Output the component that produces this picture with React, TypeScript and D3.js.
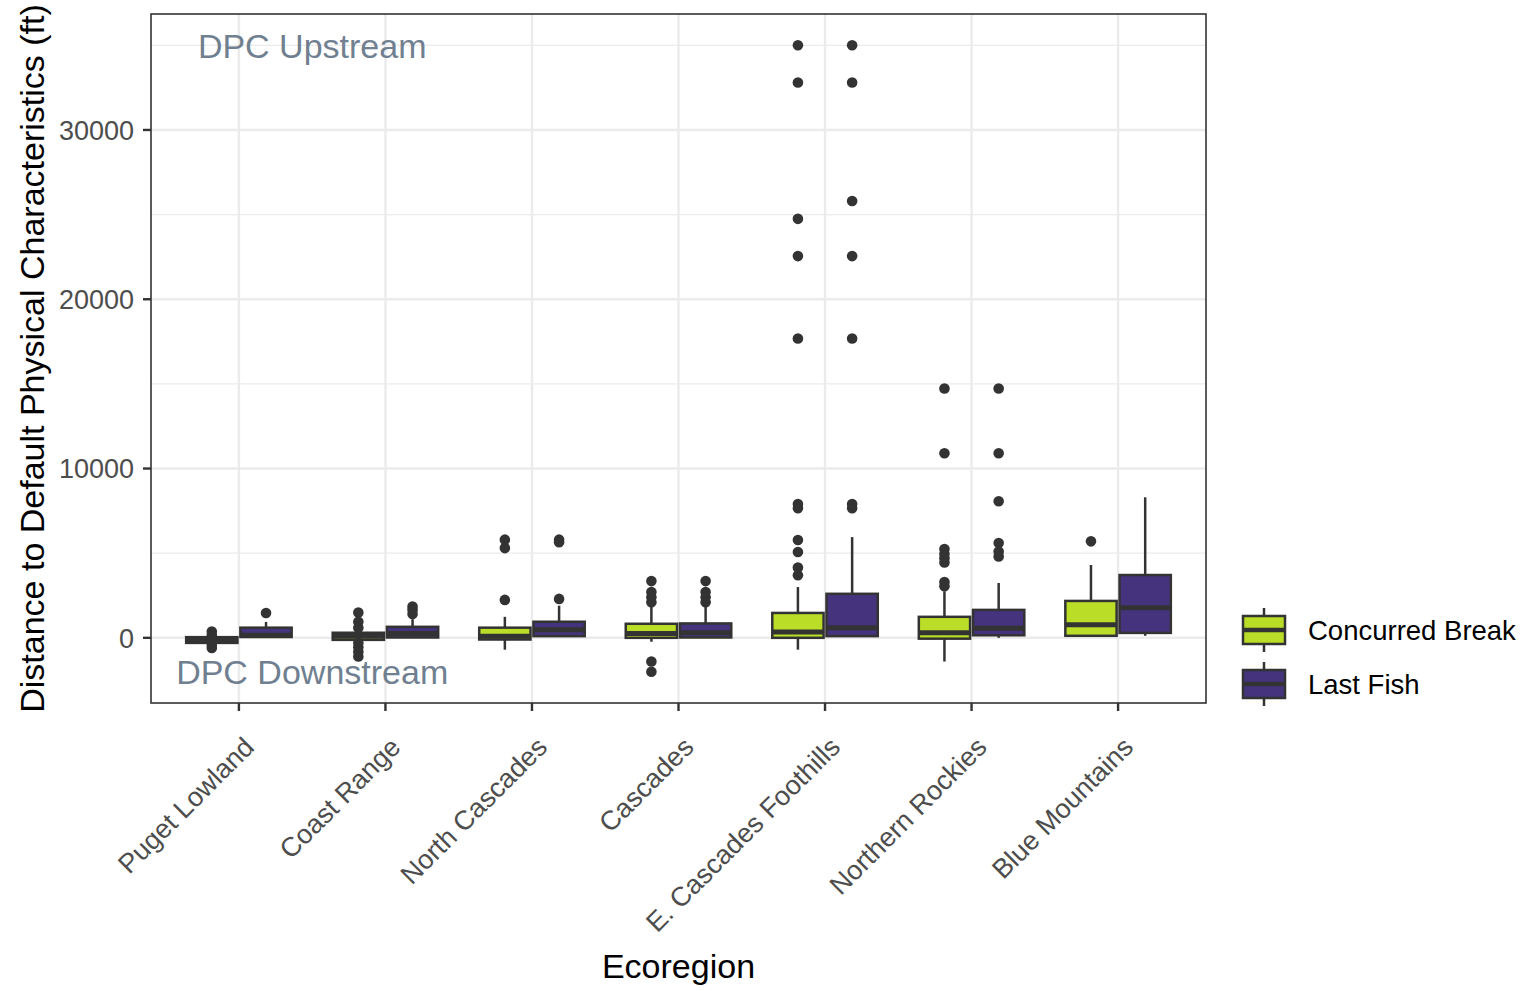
import React from "react";
import * as d3 from "d3";

// Ecoregions along the x axis
const ecoregions = [
  "Puget Lowland",
  "Coast Range",
  "North Cascades",
  "Cascades",
  "E. Cascades Foothills",
  "Northern Rockies",
  "Blue Mountains",
];

const groups = ["Concurred Break", "Last Fish"];
const groupColors = ["#BADE28", "#46337E"];

// Box statistics per ecoregion (ft): lower whisker, Q1, median, Q3, upper whisker
const concurredLower = [-320, -200, -700, -230, -700, -1400, 50];
const concurredQ1 = [-300, -120, -100, 0, 0, -50, 120];
const concurredMedian = [-130, 100, 100, 250, 350, 300, 770];
const concurredQ3 = [40, 300, 600, 830, 1470, 1240, 2180];
const concurredUpper = [80, 500, 1240, 1830, 3000, 2750, 4300];
const concurredOutliers = [
  [370, 170, -420, -600],
  [1500, 950, 600, -300, -550, -820, -1100],
  [5800, 5300, 2240],
  [3350, 2700, 2400, 2100, -1400, -2000],
  [35000, 32800, 24750, 22550, 17680, 7900, 7650, 5780, 5070, 4150, 3700],
  [14730, 10900, 5250, 4950, 4700, 4450, 3300, 3050],
  [5700],
];

const lastFishLower = [0, 0, 50, 0, 50, 0, 120];
const lastFishQ1 = [50, 20, 100, 20, 100, 150, 290];
const lastFishMedian = [150, 250, 470, 300, 600, 560, 1770];
const lastFishQ3 = [600, 650, 950, 850, 2600, 1650, 3710];
const lastFishUpper = [940, 1100, 1900, 1830, 5950, 3240, 8300];
const lastFishOutliers = [
  [1470],
  [1850, 1650, 1400],
  [5800, 5650, 2300],
  [3350, 2700, 2400, 2100],
  [35000, 32800, 25800, 22550, 17680, 7900, 7650],
  [14730, 10900, 8070, 5600, 5100, 4800],
  [],
];

const yTicks = [0, 10000, 20000, 30000];
const yMinorTicks = [5000, 15000, 25000, 35000];

const annotations = [
  { label: "DPC Upstream", x: 1.5, y: 35000 },
  { label: "DPC Downstream", x: 1.5, y: -2000 },
];

const FONT = "'Liberation Sans', Arial, Helvetica, sans-serif";
const W = 1532;
const H = 991;
const panel = { left: 151, top: 14, right: 1206, bottom: 703 };

type Box = {
  region: number;
  group: number;
  lower: number;
  q1: number;
  median: number;
  q3: number;
  upper: number;
  outliers: number[];
};

const boxes: Box[] = [];
ecoregions.forEach((_, i) => {
  boxes.push({
    region: i,
    group: 0,
    lower: concurredLower[i],
    q1: concurredQ1[i],
    median: concurredMedian[i],
    q3: concurredQ3[i],
    upper: concurredUpper[i],
    outliers: concurredOutliers[i],
  });
  boxes.push({
    region: i,
    group: 1,
    lower: lastFishLower[i],
    q1: lastFishQ1[i],
    median: lastFishMedian[i],
    q3: lastFishQ3[i],
    upper: lastFishUpper[i],
    outliers: lastFishOutliers[i],
  });
});

export default function App() {
  // Discrete x scale with 0.6 unit padding at each end
  const x = d3
    .scaleLinear()
    .domain([1 - 0.6, ecoregions.length + 0.6])
    .range([panel.left, panel.right]);

  const allValues = boxes.flatMap((b) => [b.lower, b.upper, ...b.outliers]);
  const yMin = d3.min(allValues) as number;
  const yMax = d3.max(allValues) as number;
  const pad = (yMax - yMin) * 0.05;
  const y = d3
    .scaleLinear()
    .domain([yMin - pad, yMax + pad])
    .range([panel.bottom, panel.top]);

  const unit = x(2) - x(1);
  const boxW = unit * 0.35;
  const offset = unit * 0.185;

  const stroke = "#333333";

  return (
    <svg
      width={W}
      height={H}
      style={{ position: "fixed", left: 0, top: 0, background: "#fff" }}
      fontFamily={FONT}
    >
      <rect x={0} y={0} width={W} height={H} fill="#fff" />
      <defs>
        <clipPath id="panelClip">
          <rect
            x={panel.left}
            y={panel.top}
            width={panel.right - panel.left}
            height={panel.bottom - panel.top}
          />
        </clipPath>
      </defs>

      {/* grid */}
      <g clipPath="url(#panelClip)">
        {yMinorTicks.map((t) => (
          <line
            key={"ym" + t}
            x1={panel.left}
            x2={panel.right}
            y1={y(t)}
            y2={y(t)}
            stroke="#EBEBEB"
            strokeWidth={1.2}
          />
        ))}
        {yTicks.map((t) => (
          <line
            key={"y" + t}
            x1={panel.left}
            x2={panel.right}
            y1={y(t)}
            y2={y(t)}
            stroke="#EBEBEB"
            strokeWidth={2.4}
          />
        ))}
        {ecoregions.map((r, i) => (
          <line
            key={"x" + r}
            x1={x(i + 1)}
            x2={x(i + 1)}
            y1={panel.top}
            y2={panel.bottom}
            stroke="#EBEBEB"
            strokeWidth={2.4}
          />
        ))}
      </g>

      {/* boxplots */}
      <g clipPath="url(#panelClip)">
        {boxes.map((b, k) => {
          const cx = x(b.region + 1) + (b.group === 0 ? -offset : offset);
          const x0 = cx - boxW / 2;
          return (
            <g key={"b" + k}>
              <line x1={cx} x2={cx} y1={y(b.q3)} y2={y(b.upper)} stroke={stroke} strokeWidth={2.5} />
              <line x1={cx} x2={cx} y1={y(b.q1)} y2={y(b.lower)} stroke={stroke} strokeWidth={2.5} />
              <rect
                x={x0}
                y={y(b.q3)}
                width={boxW}
                height={Math.max(0, y(b.q1) - y(b.q3))}
                fill={groupColors[b.group]}
                stroke={stroke}
                strokeWidth={2.5}
              />
              <line
                x1={x0}
                x2={x0 + boxW}
                y1={y(b.median)}
                y2={y(b.median)}
                stroke={stroke}
                strokeWidth={5}
              />
              {b.outliers.map((o, j) => (
                <circle key={j} cx={cx} cy={y(o)} r={5.3} fill={stroke} />
              ))}
            </g>
          );
        })}
      </g>

      {/* annotations */}
      {annotations.map((a) => (
        <text
          key={a.label}
          x={x(a.x)}
          y={y(a.y)}
          dy="0.36em"
          textAnchor="middle"
          fontSize={34}
          fill="#708090"
        >
          {a.label}
        </text>
      ))}

      {/* panel border */}
      <rect
        x={panel.left}
        y={panel.top}
        width={panel.right - panel.left}
        height={panel.bottom - panel.top}
        fill="none"
        stroke={stroke}
        strokeWidth={1.6}
      />

      {/* y axis */}
      {yTicks.map((t) => (
        <g key={"yt" + t}>
          <line x1={panel.left - 8} x2={panel.left} y1={y(t)} y2={y(t)} stroke={stroke} strokeWidth={2.4} />
          <text
            x={panel.left - 17}
            y={y(t)}
            dy="0.36em"
            textAnchor="end"
            fontSize={27}
            fill="#4D4D4D"
          >
            {t}
          </text>
        </g>
      ))}

      {/* x axis */}
      {ecoregions.map((r, i) => {
        const cx = x(i + 1);
        return (
          <g key={"xt" + r}>
            <line x1={cx} x2={cx} y1={panel.bottom} y2={panel.bottom + 8} stroke={stroke} strokeWidth={2.4} />
            <text
              transform={`translate(${cx + 3},${735}) rotate(-45)`}
              dy="0.72em"
              textAnchor="end"
              fontSize={27}
              fill="#4D4D4D"
            >
              {r}
            </text>
          </g>
        );
      })}

      {/* axis titles */}
      <text
        x={(panel.left + panel.right) / 2}
        y={978}
        textAnchor="middle"
        fontSize={34}
        fill="#000"
      >
        Ecoregion
      </text>
      <text
        transform={`translate(44,${(panel.top + panel.bottom) / 2}) rotate(-90)`}
        textAnchor="middle"
        fontSize={34}
        fill="#000"
      >
        Distance to Default Physical Characteristics (ft)
      </text>

      {/* legend */}
      {groups.map((g, i) => {
        const cy = 630 + i * 54;
        const kx = 1264;
        return (
          <g key={"lg" + g}>
            <line x1={kx} x2={kx} y1={cy - 22} y2={cy + 22} stroke={stroke} strokeWidth={2.5} />
            <rect
              x={kx - 21}
              y={cy - 14}
              width={42}
              height={28}
              fill={groupColors[i]}
              stroke={stroke}
              strokeWidth={2.5}
            />
            <line x1={kx - 21} x2={kx + 21} y1={cy} y2={cy} stroke={stroke} strokeWidth={4.5} />
            <text x={1308} y={cy} dy="0.36em" fontSize={27.5} fill="#000">
              {g}
            </text>
          </g>
        );
      })}
    </svg>
  );
}
